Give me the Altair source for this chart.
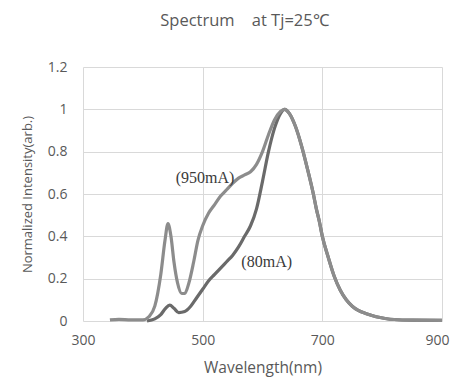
import altair as alt
import pandas as pd

wl_950 = [345, 360, 380, 400, 410, 420, 430, 437, 442, 447, 452, 458, 465, 470, 477, 485, 492, 500,
          510, 520, 530, 540, 550, 560, 570, 580, 590, 600, 610, 620, 630, 637, 645, 655, 665, 675,
          685, 690, 695, 700, 710, 720, 730, 740, 750, 760, 775, 790, 805, 820, 850, 900]
iv_950 = [0.005, 0.008, 0.005, 0.005, 0.02, 0.07, 0.22, 0.38, 0.46, 0.40, 0.28, 0.18, 0.13, 0.13, 0.18, 0.28, 0.38, 0.45,
          0.51, 0.55, 0.59, 0.62, 0.65, 0.675, 0.69, 0.705, 0.74, 0.80, 0.88, 0.95, 0.99, 1.0, 0.98, 0.92, 0.83, 0.72,
          0.60, 0.53, 0.47, 0.40, 0.30, 0.21, 0.145, 0.10, 0.07, 0.05, 0.033, 0.02, 0.012, 0.007, 0.004, 0.003]

wl_80 = [407, 420, 430, 438, 445, 452, 460, 470, 480, 490, 500, 510, 520, 530, 540, 550, 560, 570, 580,
         590, 600, 610, 620, 630, 637, 645, 655, 665, 675, 685, 690, 695, 700, 710, 720, 730, 740, 750,
         760, 775, 790, 805, 820, 850, 900]
iv_80 = [0.0, 0.01, 0.03, 0.06, 0.075, 0.06, 0.04, 0.045, 0.07, 0.11, 0.15, 0.19, 0.22, 0.25, 0.28, 0.31, 0.35, 0.40, 0.45,
         0.53, 0.66, 0.80, 0.91, 0.98, 1.0, 0.98, 0.92, 0.83, 0.72, 0.60, 0.53, 0.47, 0.40, 0.30, 0.21, 0.145, 0.10, 0.07,
         0.05, 0.033, 0.02, 0.012, 0.007, 0.004, 0.003]

series_names = ["80mA", "950mA"]
series_colors = ["#6a6a6a", "#8c8c8c"]

label_text = ["(950mA)", "(80mA)"]
label_x = [504, 607]
label_y = [0.675, 0.279]

x_ticks = [300, 500, 700, 900]
y_ticks = [0, 0.2, 0.4, 0.6, 0.8, 1.0, 1.2]

rows = []
for w, v in zip(wl_80, iv_80):
    rows.append({"wl": w, "iv": v, "series": "80mA", "order": 0})
for w, v in zip(wl_950, iv_950):
    rows.append({"wl": w, "iv": v, "series": "950mA", "order": 1})
df = pd.DataFrame(rows)
lab = pd.DataFrame({"t": label_text, "x": label_x, "y": label_y})

font = "Open Sans"
gray = "#595959"

xs = alt.Scale(domain=[300, 900], nice=False, zero=False)
ys = alt.Scale(domain=[0, 1.2], nice=False)

lines = alt.Chart(df).mark_line(strokeWidth=3.2, interpolate="monotone").encode(
    x=alt.X("wl:Q", scale=xs, title="Wavelength(nm)",
            axis=alt.Axis(values=x_ticks, grid=True, domain=False, ticks=False,
                          labelPadding=12, titlePadding=13, labelFontSize=14, titleFontSize=15.5,
                          labelFlush=False,
                          labelAlign={"condition": {"test": "datum.value == 900", "value": "right"}, "value": "center"},
                          labelOffset={"condition": {"test": "datum.value == 900", "value": 7}, "value": 0})),
    y=alt.Y("iv:Q", scale=ys, title="Normalized Intensity(arb.)",
            axis=alt.Axis(values=y_ticks, grid=True, domain=False, ticks=False,
                          labelExpr="format(datum.value, '~g')",
                          labelPadding=16, titlePadding=13, labelFontSize=14, titleFontSize=13)),
    color=alt.Color("series:N", scale=alt.Scale(domain=series_names, range=series_colors), legend=None),
    detail="series:N",
    order="order:Q",
)

texts = alt.Chart(lab).mark_text(font="Liberation Serif", fontSize=16, color="#3a3a3a").encode(
    x=alt.X("x:Q", scale=xs), y=alt.Y("y:Q", scale=ys), text="t:N"
)

chart = alt.layer(lines, texts).properties(
    width=359, height=254,
    autosize=alt.AutoSizeParams(type="none"),
    padding={"left": 75, "top": 59, "right": 8, "bottom": 60},
    title=alt.TitleParams("Spectrum\u00a0\u00a0\u00a0\u00a0at Tj=25\u2103", fontSize=16.5, font=font, color=gray,
                          fontWeight="normal", offset=31, dx=-18),
).configure_axis(
    gridColor="#d9d9d9", gridWidth=1, labelColor=gray, titleColor=gray,
    labelFont=font, titleFont=font, titleFontWeight="normal",
).configure_view(stroke=None)

chart.save("out.html", embed_options={"renderer": "svg", "actions": False})
